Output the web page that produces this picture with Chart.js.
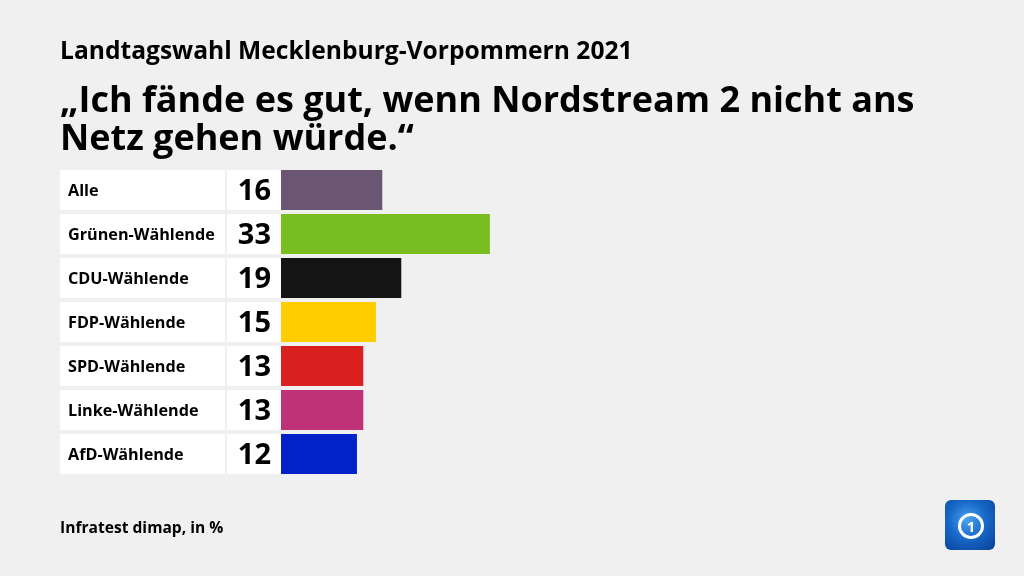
<!DOCTYPE html>
<html>
<head>
<meta charset="utf-8">
<script src="https://cdn.jsdelivr.net/npm/chart.js@4"></script>
<style>
  html, body { margin: 0; padding: 0; background: #f0f0f0; }
  #wrap { position: relative; width: 1024px; height: 576px; overflow: hidden; font-family: "Open Sans", sans-serif; color: #000; }
  #chart { position: absolute; left: 0; top: 0; }
  .sup { position: absolute; left: 60px; top: 33px; font-size: 24.6px; font-weight: 700; letter-spacing: 0; }
  .title { position: absolute; left: 60px; top: 80px; font-size: 36px; font-weight: 700; line-height: 38px; letter-spacing: 0; }
  .foot { position: absolute; left: 60px; top: 516px; font-size: 15.6px; font-weight: 700; }
  .logo { position: absolute; left: 945px; top: 500px; width: 50px; height: 50px; border-radius: 6px;
          background: radial-gradient(circle at 45% 40%, #4aa3ee 0%, #1869c9 45%, #073e95 100%); }
  .logo .ring { position: absolute; left: 13px; top: 13px; width: 20px; height: 20px; border: 3px solid #fff; border-radius: 50%;
          color: #fff; font: 700 15px "Open Sans", sans-serif; text-align: center; line-height: 20px; }
</style>
</head>
<body>
<div id="wrap">
  <canvas id="chart" width="1024" height="576"></canvas>
  <div class="sup">Landtagswahl Mecklenburg-Vorpommern 2021</div>
  <div class="title">„Ich fände es gut, wenn Nordstream 2 nicht ans<br>Netz gehen würde.“</div>
  <div class="foot">Infratest dimap, in %</div>
  <div class="logo"><div class="ring">1</div></div>
</div>
<script>
// Daten
const categories = ['Alle', 'Grünen-Wählende', 'CDU-Wählende', 'FDP-Wählende', 'SPD-Wählende', 'Linke-Wählende', 'AfD-Wählende'];
const values = [16, 33, 19, 15, 13, 13, 12];
const barColors = ['#6a5573', '#78be20', '#141414', '#ffcc00', '#d9201f', '#c03278', '#0321c8'];

// Label- und Wertkästen links von den Balken
const rowBoxes = {
    id: 'rowBoxes',
    beforeDatasetsDraw(chart) {
        const ctx = chart.ctx;
        const yScale = chart.scales.y;
        ctx.save();
        categories.forEach((cat, i) => {
            const yc = yScale.getPixelForValue(i);
            const top = yc - 20;
            ctx.fillStyle = '#ffffff';
            ctx.fillRect(60, top, 165, 40);
            ctx.fillRect(227, top, 54, 40);
            ctx.fillStyle = '#000';
            ctx.textBaseline = 'middle';
            ctx.textAlign = 'left';
            ctx.font = '700 16.2px "Open Sans", sans-serif';
            ctx.fillText(cat, 68, yc + 1);
            ctx.textAlign = 'right';
            ctx.font = '700 29px "Open Sans", sans-serif';
            ctx.fillText(String(values[i]), 271, yc + 2);
        });
        ctx.restore();
    }
};

new Chart(document.getElementById('chart'), {
    type: 'bar',
    data: {
        labels: categories,
        datasets: [{
            data: values,
            backgroundColor: barColors,
            borderWidth: 0,
            barPercentage: 40 / 44,
            categoryPercentage: 1
        }]
    },
    options: {
        indexAxis: 'y',
        responsive: false,
        animation: false,
        layout: { padding: { left: 281, right: 110, top: 168, bottom: 100 } },
        plugins: { legend: { display: false }, tooltip: { enabled: false } },
        scales: {
            x: { display: false, min: 0, max: 100 },
            y: { display: false }
        }
    },
    plugins: [rowBoxes]
});
</script>
</body>
</html>
